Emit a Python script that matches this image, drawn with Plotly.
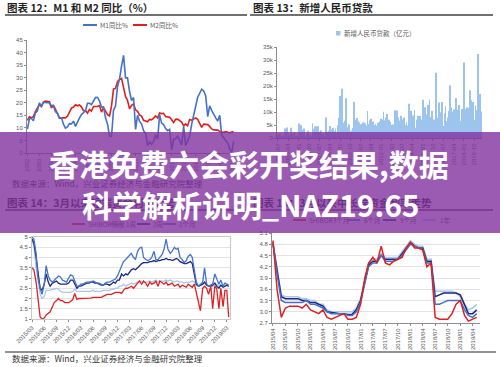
import plotly.graph_objects as go
import pandas as pd

# ---------------- data ----------------
# Chart 12: M1 / M2 YoY (%), bi-monthly observations from 2002-01
m_start = "2002-01-01"
m1_yoy = [9.5, 13.5, 13.8, 12.8, 15.9, 16.8,
          20.0, 18.6, 20.2, 20.2, 19.9, 19.9,
          18.8, 18.9, 16.4, 15.9, 13.8, 14.0,
          11.5, 9.9, 10.4, 11.7, 11.6, 12.7,
          10.6, 12.6, 13.9, 15.3, 16.0, 16.8,
          19.8, 19.8, 19.3, 20.9, 22.1, 22.2,
          20.7, 18.3, 18.4, 14.0, 11.5, 6.8,
          6.7, 17.0, 18.7, 26.4, 29.5, 34.6,
          38.9, 29.9, 29.9, 24.6, 20.9, 22.1,
          9.4, 15.0, 12.7, 11.6, 8.9, 7.8,
          3.1, 4.4, 3.5, 4.6, 7.3, 5.5,
          15.3, 11.9, 11.3, 9.7, 8.9, 9.4,
          1.2, 5.4, 5.7, 6.7, 4.8, 3.2,
          10.6, 2.9, 4.7, 6.6, 11.4, 15.7,
          18.6, 22.1, 23.7, 25.4, 24.7, 22.7,
          14.5, 18.8, 17.0, 15.3, 14.0, 12.7,
          15.0, 7.1, 6.0, 5.1, 4.0, 1.5,
          0.4, 4.6]
m2_yoy = [13.0, 14.4, 14.0, 14.5, 16.5, 18.2,
          19.3, 18.5, 20.2, 20.7, 20.7, 20.4,
          17.9, 19.1, 17.5, 15.3, 13.9, 14.0,
          14.1, 14.0, 14.6, 16.3, 17.9, 18.3,
          19.2, 18.8, 19.1, 18.4, 16.8, 16.8,
          15.9, 17.3, 16.7, 18.5, 18.5, 18.5,
          18.9, 16.3, 18.1, 16.4, 15.3, 14.8,
          18.8, 25.5, 25.7, 28.4, 29.3, 29.7,
          26.1, 22.5, 21.0, 17.6, 19.0, 19.5,
          17.2, 16.6, 15.1, 14.7, 13.0, 12.7,
          12.4, 13.4, 13.2, 13.9, 14.8, 13.9,
          15.9, 15.7, 15.8, 14.5, 14.2, 14.2,
          13.2, 12.1, 13.4, 13.5, 12.9, 12.3,
          10.8, 11.6, 10.8, 13.3, 13.1, 13.7,
          14.0, 13.4, 11.8, 10.2, 11.5, 11.4,
          11.3, 10.6, 9.6, 9.2, 9.2, 9.1,
          8.6, 8.2, 8.3, 8.5, 8.3, 8.0,
          8.4, 8.6]
m_names = ["M1同比%", "M2同比%"]

# Chart 13: new RMB loans (100m yuan), monthly from 2004-07
loan_start = "2004-07-01"
new_loans = [1200, 1800, 1600, 500, 1100, 1000,
             3700, 1100, 4000, 1800, 1200, 3900, 300, 1500, 2100, 500, 1000, 1000,
             5600, 1300, 5000, 3200, 2000, 3700, 900, 1700, 2800, 900, 1300, 400,
             5700, 3600, 4400, 4500, 2500, 4500, 2400, 3000, 2800, 1400, 400, 500,
             8000, 2400, 2800, 4600, 3200, 3300, 3900, 2700, 3700, 1800, 4800, 7700,
             16200, 10700, 18900, 5900, 6600, 15300, 3600, 4100, 5200, 2500, 2900, 3800,
             13900, 7000, 5100, 7700, 6400, 6000, 5300, 5400, 6000, 5900, 5600, 4800,
             10400, 5400, 6800, 7400, 5500, 6300, 4900, 5500, 4700, 5900, 5600, 6400,
             7400, 7100, 10100, 6800, 7900, 9200, 5400, 7000, 6200, 5100, 5200, 4500,
             10700, 6200, 10600, 7900, 6700, 8600, 7000, 7100, 7900, 5100, 6200, 4800,
             13200, 6400, 10500, 7700, 8700, 10800, 3900, 7000, 8600, 5500, 8500, 7000,
             14700, 10200, 11800, 7100, 9000, 12800, 14800, 8100, 10500, 5100, 7100, 5900,
             25100, 7800, 13700, 5600, 9900, 13800, 4600, 9500, 12200, 6500, 7900, 10400,
             20300, 11700, 10200, 11000, 11100, 15400, 8300, 10900, 12700, 6600, 11200, 5800,
             29000, 8400, 11200, 11800, 11500, 18400, 14500, 13100, 13800, 7000, 12500, 10800,
             32300, 8900, 16900, 10200]
loan_name = "新增人民币贷款（亿元）"

# Chart 14: short SHIBOR (%), semi-monthly from 2015-03
s_start = "2015-03-01"
shibor_on = [3.5, 3.4, 2.8, 1.9, 1.1, 1.0, 1.05, 1.2, 1.3, 1.35, 1.6, 1.8, 1.9, 2.0, 1.9, 1.9, 1.8, 1.8, 1.8, 1.85,
             1.95, 2.25, 1.95, 2.0, 2.0, 2.0, 2.0, 2.0, 2.0, 2.02, 2.05, 2.05, 2.05, 2.05, 2.05, 2.1, 2.15, 2.2, 2.2, 2.2, 2.25, 2.3, 2.3, 2.3,
             2.25, 2.4, 2.5, 2.5, 2.55, 2.6, 2.5, 2.65, 2.75, 2.85, 2.7, 2.85, 2.75, 2.6, 2.8, 2.7, 2.75, 2.85, 2.6, 2.85, 2.75, 2.7, 2.8, 2.65,
             2.7, 2.75, 2.6, 2.65, 2.7, 2.55, 2.65, 2.6, 2.55, 2.7, 2.6, 2.55, 2.7, 2.3, 1.9, 1.4, 2.5, 2.6, 2.5, 2.2, 2.6, 1.5, 2.6, 2.5,
             1.5, 2.5, 1.6, 2.4, 2.4, 1.1]
shibor_1w = [4.8, 4.6, 3.5, 2.8, 2.2, 2.0, 2.1, 2.4, 2.4, 2.4, 2.45, 2.45, 2.5, 2.45, 2.35, 2.3, 2.3, 2.3, 2.3, 2.3,
             2.35, 2.45, 2.35, 2.35, 2.35, 2.35, 2.35, 2.35, 2.35, 2.35, 2.4, 2.35, 2.35, 2.35, 2.35, 2.4, 2.4, 2.4, 2.4, 2.45, 2.45, 2.5, 2.5, 2.6,
             2.6, 2.7, 2.6, 2.65, 2.7, 2.75, 2.7, 2.75, 2.8, 2.85, 2.85, 2.8, 2.8, 2.8, 2.85, 2.8, 2.85, 2.9, 2.8, 2.85, 2.85, 2.85, 2.9, 2.85,
             2.9, 2.85, 2.8, 2.85, 2.85, 2.8, 2.8, 2.75, 2.8, 2.8, 2.8, 2.85, 2.8, 2.65, 2.6, 2.65, 2.7, 2.75, 2.65, 2.6, 2.65, 2.6, 2.65, 2.7,
             2.6, 2.65, 2.6, 2.6, 2.65, 2.55]
shibor_2w = [4.9, 4.7, 4.0, 3.2, 2.5, 2.4, 2.7, 3.2, 2.8, 2.6, 2.75, 2.8, 2.85, 2.75, 2.7, 2.7, 2.7, 2.7, 2.75, 2.9,
             2.9, 2.75, 2.5, 2.6, 2.6, 2.65, 2.7, 2.75, 2.75, 2.8, 2.8, 2.75, 2.75, 2.7, 2.65, 2.65, 2.7, 2.7, 2.65, 2.7, 2.8, 2.75, 2.9, 2.9,
             3.2, 3.1, 3.2, 3.15, 3.3, 3.4, 3.45, 3.4, 3.5, 3.6, 3.7, 3.75, 3.75, 3.75, 3.8, 3.8, 3.85, 3.8, 3.85, 3.85, 3.9, 3.9, 3.95, 3.9,
             3.9, 3.85, 3.9, 3.95, 3.9, 3.8, 3.75, 3.7, 3.7, 3.75, 3.8, 3.7, 3.1, 2.7, 2.6, 2.65, 2.7, 2.8, 2.65, 2.6, 2.6, 2.65, 2.75, 2.6,
             2.5, 2.65, 2.55, 2.6, 2.65, 2.6]
shibor_1m = [5.0, 4.9, 4.2, 3.0, 2.5, 2.2, 2.7, 3.6, 3.1, 2.9, 2.8, 2.9, 3.0, 3.1, 3.05, 2.9, 2.85, 2.8, 3.0, 3.15,
             3.1, 2.85, 2.6, 2.6, 2.7, 2.7, 2.75, 2.8, 2.8, 2.8, 2.85, 2.8, 2.75, 2.75, 2.7, 2.65, 2.75, 2.8, 2.8, 2.85, 2.9, 2.95, 3.1, 3.3,
             3.6, 3.8, 3.9, 4.0, 4.05, 4.2, 4.0, 3.9, 4.3, 4.45, 4.5, 4.0, 3.9, 3.85, 3.9, 4.0, 4.3, 3.9, 3.9, 4.0, 4.15, 4.4, 4.9, 4.4,
             4.2, 4.3, 4.5, 4.4, 4.45, 4.0, 3.9, 3.75, 3.85, 4.05, 4.15, 4.0, 3.3, 2.8, 2.6, 2.7, 2.8, 3.5, 2.7, 2.6, 2.65, 2.7, 3.2, 3.0,
             2.7, 2.9, 2.6, 2.75, 2.7, 2.65]
s_names = ["SHIBOR隔夜", "1周", "2周", "1个月"]

# Chart 15: longer SHIBOR (%), monthly from 2015-04
l_start = "2015-04-01"
shibor_3m = [4.9, 3.6, 2.85, 3.1, 3.15, 3.15, 3.15, 3.1, 3.2,
             3.05, 3.0, 2.95, 3.05, 2.85, 2.8, 2.85, 2.9, 2.95, 2.8, 2.8, 2.85,
             3.2, 3.9, 4.3, 4.45, 4.3, 4.75, 4.3, 4.25, 4.35, 4.4, 4.45, 4.7,
             4.85, 4.7, 4.7, 4.65, 4.2, 4.3, 2.85, 2.8, 2.8, 2.8, 2.95, 3.2,
             3.3, 2.9, 2.75, 2.8, 2.85]
shibor_6m = [4.85, 4.0, 3.3, 3.25, 3.25, 3.25, 3.25, 3.25, 3.3,
             3.2, 3.2, 3.15, 3.1, 3.0, 2.95, 2.95, 2.95, 2.95, 2.9, 2.9, 3.0,
             3.25, 3.75, 4.2, 4.3, 4.3, 4.5, 4.35, 4.35, 4.35, 4.4, 4.5, 4.65,
             4.8, 4.75, 4.7, 4.65, 4.3, 4.3, 3.2, 3.2, 3.25, 3.3, 3.3, 3.3,
             3.3, 3.05, 2.9, 2.85, 2.95]
shibor_9m = [4.8, 4.1, 3.4, 3.35, 3.35, 3.35, 3.35, 3.3, 3.3,
             3.25, 3.25, 3.2, 3.15, 3.0, 2.98, 2.95, 2.95, 2.95, 2.93, 2.93, 3.05,
             3.3, 3.8, 4.25, 4.35, 4.35, 4.5, 4.4, 4.4, 4.4, 4.4, 4.55, 4.7,
             4.85, 4.75, 4.7, 4.7, 4.35, 4.35, 3.4, 3.45, 3.5, 3.5, 3.5, 3.5,
             3.45, 3.2, 2.95, 2.95, 3.05]
shibor_1y = [4.85, 4.2, 3.45, 3.4, 3.4, 3.4, 3.4, 3.35, 3.35,
             3.3, 3.3, 3.2, 3.2, 3.05, 3.0, 3.0, 3.0, 3.0, 3.0, 3.0, 3.1,
             3.35, 3.85, 4.3, 4.4, 4.4, 4.55, 4.45, 4.45, 4.45, 4.45, 4.6, 4.75,
             4.9, 4.8, 4.75, 4.75, 4.4, 4.4, 3.55, 3.55, 3.55, 3.55, 3.55, 3.5,
             3.4, 3.2, 3.05, 3.1, 3.2]
l_names = ["SHIBOR3个月", "6个月", "9个月", "1年"]

titles = ["图表 12：M1 和 M2 同比（%）", "图表 13：新增人民币贷款",
          "图表 14：3月以来短端资金利率走势", "图表 15：3月以来中长端资金利率走势"]
source_text = "数据来源：Wind，兴业证券经济与金融研究院整理"
banner_lines = ["香港免费六会彩开奖结果,数据", "科学解析说明_NAZ19.65"]

# ---------------- styling helpers ----------------
W, H = 500, 367
def X(p): return p / W
def Y(p): return 1 - p / H

BAN = (130, 50, 160, 0.8)
def tint(hexc):
    hexc = hexc.lstrip('#')
    r, g, b = int(hexc[0:2], 16), int(hexc[2:4], 16), int(hexc[4:6], 16)
    a = BAN[3]
    return "rgb(%d,%d,%d)" % (r * (1 - a) + BAN[0] * a, g * (1 - a) + BAN[1] * a, b * (1 - a) + BAN[2] * a)

RED = "#e02020"
BLUE = "#4472c8"
NAVY = "#1c2778"
LIGHT = "#a9c6ec"
BAR = "#9cc4ec"
TXT = "#595959"
CJK = "Noto Sans CJK SC"
NUM = "Liberation Sans"

m_dates = pd.date_range(m_start, periods=len(m1_yoy), freq="2MS")
loan_dates = pd.date_range(loan_start, periods=len(new_loans), freq="MS")
s_dates = pd.date_range(s_start, periods=len(shibor_on), freq="SMS")
l_dates = pd.date_range(l_start, periods=len(shibor_3m), freq="MS")

fig = go.Figure()
fig.add_trace(go.Scatter(x=m_dates, y=m2_yoy, mode="lines", line=dict(color=RED, width=1.6), xaxis="x", yaxis="y", name=m_names[1]))
fig.add_trace(go.Scatter(x=m_dates, y=m1_yoy, mode="lines", line=dict(color=BLUE, width=1.6), xaxis="x", yaxis="y", name=m_names[0]))
fig.add_trace(go.Bar(x=loan_dates, y=new_loans, marker=dict(color=BAR, line=dict(width=0)), xaxis="x2", yaxis="y2", name=loan_name))
for vals, col, nm in [(shibor_1w, LIGHT, s_names[1]), (shibor_2w, NAVY, s_names[2]),
                      (shibor_1m, BLUE, s_names[3]), (shibor_on, RED, s_names[0])]:
    fig.add_trace(go.Scatter(x=s_dates, y=vals, mode="lines", line=dict(color=col, width=1.3), xaxis="x3", yaxis="y3", name=nm))
for vals, col, nm in [(shibor_1y, LIGHT, l_names[3]), (shibor_9m, NAVY, l_names[2]),
                      (shibor_6m, BLUE, l_names[1]), (shibor_3m, RED, l_names[0])]:
    fig.add_trace(go.Scatter(x=l_dates, y=vals, mode="lines", line=dict(color=col, width=1.5), xaxis="x4", yaxis="y4", name=nm))

tickf = dict(family=NUM, size=6, color=TXT)
common_x = dict(type="date", showgrid=False, showline=True, linecolor="#8c8c8c", linewidth=1, automargin=False,
                ticks="outside", ticklen=2, tickcolor="#8c8c8c", tickfont=tickf, zeroline=False)
common_y = dict(showline=True, linecolor="#8c8c8c", linewidth=1, ticks="outside", ticklen=2, automargin=False,
                tickcolor="#8c8c8c", tickfont=tickf, zeroline=False)

fig.update_layout(
    template="none",
    width=W, height=H, autosize=False, margin=dict(l=0, r=0, t=0, b=0, pad=0),
    paper_bgcolor="white", plot_bgcolor="white", showlegend=False, bargap=0.25,
    xaxis=dict(common_x, domain=[X(27), X(235)], range=["2001-12-20", "2019-04-10"],
               tickformat="%Y", dtick="M12", tick0="2002-01-01", tickangle=-90, anchor="y"),
    yaxis=dict(common_y, domain=[Y(153), Y(40)], range=[0, 45], dtick=5, showgrid=False, anchor="x"),
    xaxis2=dict(common_x, domain=[X(277), X(482)], range=["2004-06-05", "2019-04-25"],
                tickformat="%Y-%m", dtick="M9", tick0="2004-07-01", tickangle=-90, anchor="y2"),
    yaxis2=dict(common_y, domain=[Y(138), Y(47)], range=[0, 35000], dtick=5000, showgrid=False, anchor="x2"),
    xaxis3=dict(common_x, domain=[X(32), X(230)], range=["2015-03-01", "2019-03-25"],
                tickformat="%Y/%m", dtick="M3", tick0="2015-03-01", tickangle=-45, anchor="y3",
                mirror=True, linecolor="#c8c8c8"),
    yaxis3=dict(common_y, domain=[Y(319), Y(237)], range=[1, 5], dtick=0.5, showgrid=True,
                gridcolor="#e3e3e3", gridwidth=1, anchor="x3", mirror=True, linecolor="#c8c8c8"),
    xaxis4=dict(common_x, domain=[X(272), X(480)], range=["2015-03-25", "2019-05-25"],
                tickformat="%Y/%m", dtick="M3", tick0="2015-04-01", tickangle=-90, anchor="y4"),
    yaxis4=dict(common_y, domain=[Y(323), Y(233)], range=[2.7, 5.1], dtick=0.3, tick0=0, tickformat=".1f",
                showgrid=True, gridcolor="#e3e3e3", gridwidth=1, anchor="x4"),
)

shapes = []
anns = []

def hline(x0, x1, y, color, width):
    shapes.append(dict(type="line", xref="paper", yref="paper", x0=X(x0), x1=X(x1), y0=Y(y), y1=Y(y),
                       line=dict(color=color, width=width), layer="above"))

def text(s, x, y, size, color, xanchor="left", bold=False, family=CJK):
    anns.append(dict(text=s, x=X(x), y=Y(y), xref="paper", yref="paper", xanchor=xanchor, yanchor="middle",
                     showarrow=False, font=dict(family=family, size=size, color=color,
                                                weight="bold" if bold else "normal")))

# title underlines & separators
hline(5, 247, 15, "#404040", 1.6)
hline(250, 493, 15, "#404040", 1.6)
hline(5, 247, 210, "#404040", 1.6)
hline(250, 493, 210, "#404040", 1.6)
hline(5, 496, 352, "#6e6e6e", 1.5)

# legend swatches (top panels)
hline(83, 97, 25, BLUE, 2)
hline(133, 147, 25, RED, 2)
shapes.append(dict(type="rect", xref="paper", yref="paper", x0=X(336), x1=X(340.5), y0=Y(35.5), y1=Y(31),
                   fillcolor=BAR, line=dict(width=0), layer="above"))
# legend swatches (bottom panels, under banner)
for x0, col in [(72, RED), (110, LIGHT), (137, NAVY), (163, BLUE)]:
    hline(x0, x0 + 13, 224, col, 1.8)
for x0, col in [(293, RED), (347, BLUE), (383, NAVY), (423, LIGHT)]:
    hline(x0, x0 + 13, 220, col, 1.8)

# banner
shapes.append(dict(type="rect", xref="paper", yref="paper", x0=0, x1=1, y0=Y(233), y1=Y(132),
                   fillcolor="rgba(%d,%d,%d,%.2f)" % BAN, line=dict(width=0), layer="above"))

# titles
text(titles[0], 5, 8, 10.5, "#1f1f1f", bold=True)
text(titles[1], 251, 8, 10.5, "#1f1f1f", bold=True)
text(titles[2], 5, 202, 10.5, tint("#1f1f1f"), bold=True)
text(titles[3], 251, 202, 10.5, tint("#1f1f1f"), bold=True)

# legends text
text(m_names[0], 98, 25, 6.5, TXT)
text(m_names[1], 148, 25, 6.5, TXT)
text(loan_name, 342, 33.5, 6.5, TXT)
for x0, nm in zip([86, 124, 151, 177], s_names):
    text(nm, x0, 224, 6.5, tint(TXT))
for x0, nm in zip([307, 362, 398, 438], l_names):
    text(nm, x0, 220, 6.5, tint(TXT))

# sources
text(source_text, 10, 183, 8.5, tint("#333333"))
text(source_text, 10, 358, 8.5, "#333333")

# banner text
text(banner_lines[0], 249, 163, 30, "white", xanchor="center", bold=True)
text(banner_lines[1], 251, 204, 30, "white", xanchor="center", bold=True)

fig.update_layout(shapes=shapes, annotations=anns)
fig.write_html("out.html", config={"displayModeBar": False},
               post_script="document.body.style.margin='0px';document.body.style.overflow='hidden';")
